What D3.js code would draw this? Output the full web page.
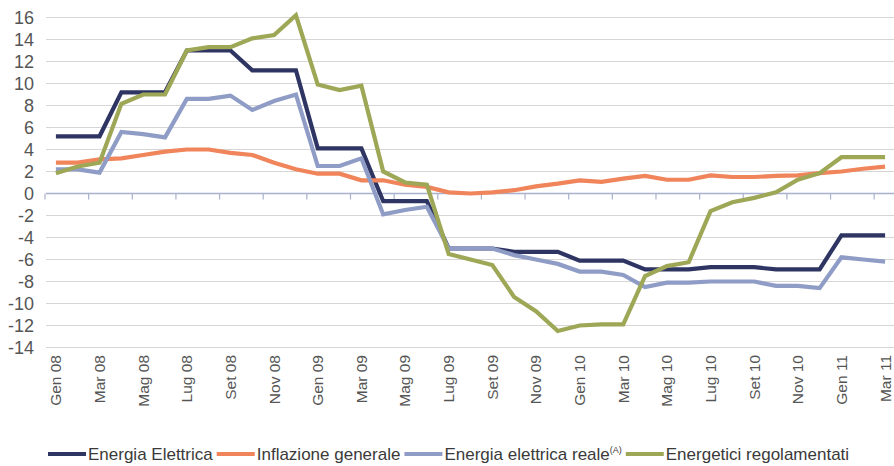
<!DOCTYPE html>
<html>
<head>
<meta charset="utf-8">
<script src="https://cdn.jsdelivr.net/npm/d3@7"></script>
<style>
    body { margin: 0; background: #fff; }
    svg { display: block; font-family: "Liberation Sans", Arial, sans-serif; }
    .grid line { stroke: #d6d6d6; stroke-width: 1; }
    .zero { stroke: #a9b1cc; stroke-width: 1.5; }
    .tick-mark { stroke: #a9b1cc; stroke-width: 1.2; }
    .y-label { font-size: 18px; fill: #555; }
    .x-label { font-size: 15.5px; fill: #555; }
    .series { fill: none; stroke-width: 4.2; stroke-linejoin: miter; }
    .legend-text { font-size: 17px; fill: #3a3a3a; }
</style>
</head>
<body>
<div id="chart"></div>
<script>
// Size of the SVG element
let width = 894;
let height = 466;

// Months from Gen 08 to Mar 11
let months = [
    "Gen 08", "Feb 08", "Mar 08", "Apr 08", "Mag 08", "Giu 08", "Lug 08", "Ago 08", "Set 08", "Ott 08", "Nov 08", "Dic 08",
    "Gen 09", "Feb 09", "Mar 09", "Apr 09", "Mag 09", "Giu 09", "Lug 09", "Ago 09", "Set 09", "Ott 09", "Nov 09", "Dic 09",
    "Gen 10", "Feb 10", "Mar 10", "Apr 10", "Mag 10", "Giu 10", "Lug 10", "Ago 10", "Set 10", "Ott 10", "Nov 10", "Dic 10",
    "Gen 11", "Feb 11", "Mar 11"
];

// Only every other month gets a label
let monthLabels = months.filter(function (d, i) { return i % 2 === 0; });

let yTicks = [16, 14, 12, 10, 8, 6, 4, 2, 0, -2, -4, -6, -8, -10, -12, -14];

// Series values
let energiaElettrica = [5.2, 5.2, 5.2, 9.2, 9.2, 9.2, 13.0, 13.0, 13.0, 11.2, 11.2, 11.2,
    4.1, 4.1, 4.1, -0.7, -0.7, -0.7, -5.0, -5.0, -5.0, -5.3, -5.3, -5.3,
    -6.1, -6.1, -6.1, -6.9, -6.9, -6.9, -6.7, -6.7, -6.7, -6.9, -6.9, -6.9, -3.8, -3.8, -3.8];

let inflazioneGenerale = [2.8, 2.8, 3.1, 3.2, 3.5, 3.8, 4.0, 4.0, 3.7, 3.5, 2.8, 2.2,
    1.8, 1.8, 1.2, 1.2, 0.8, 0.6, 0.1, 0.0, 0.1, 0.3, 0.65, 0.9,
    1.2, 1.05, 1.35, 1.6, 1.25, 1.25, 1.65, 1.5, 1.5, 1.6, 1.65, 1.85, 2.0, 2.25, 2.45];

let energiaElettricaReale = [2.2, 2.2, 1.9, 5.6, 5.4, 5.1, 8.6, 8.6, 8.9, 7.6, 8.4, 9.0,
    2.5, 2.5, 3.2, -1.9, -1.5, -1.2, -5.0, -5.0, -5.0, -5.6, -6.0, -6.4,
    -7.1, -7.1, -7.4, -8.5, -8.1, -8.1, -8.0, -8.0, -8.0, -8.4, -8.4, -8.6, -5.8, -6.0, -6.2];

let energeticiRegolamentati = [1.85, 2.45, 2.8, 8.15, 9.0, 9.0, 13.0, 13.3, 13.3, 14.1, 14.4, 16.2,
    9.9, 9.4, 9.8, 2.0, 1.0, 0.8, -5.5, -6.0, -6.5, -9.4, -10.7, -12.5,
    -12.0, -11.9, -11.9, -7.5, -6.6, -6.25, -1.6, -0.8, -0.4, 0.1, 1.25, 1.85, 3.3, 3.3, 3.3];

let seriesNames = ["Energia Elettrica", "Inflazione generale", "Energia elettrica reale", "Energetici regolamentati"];
let seriesColors = ["#2f3563", "#f0845a", "#8f9cc6", "#9ea756"];
let seriesValues = [energiaElettrica, inflazioneGenerale, energiaElettricaReale, energeticiRegolamentati];

// Scales
let xBand = d3.scaleBand()
    .domain(months)
    .range([45, 896]);

let xScale = function (m) {
    return xBand(m) + xBand.bandwidth() / 2;
};

let yScale = d3.scaleLinear()
    .domain([-14, 16])
    .range([347.5, 17.5]);

let svg = d3.select("#chart")
    .append("svg")
    .attr("width", width)
    .attr("height", height);

// Horizontal grid lines
svg.append("g")
    .attr("class", "grid")
    .selectAll("line")
    .data(yTicks.filter(function (d) { return d !== 0; }))
    .enter()
    .append("line")
    .attr("x1", 46)
    .attr("x2", width)
    .attr("y1", function (d) { return yScale(d); })
    .attr("y2", function (d) { return yScale(d); });

// Y labels
svg.append("g")
    .selectAll("text")
    .data(yTicks)
    .enter()
    .append("text")
    .attr("class", "y-label")
    .attr("x", 34)
    .attr("y", function (d) { return yScale(d); })
    .attr("dy", "0.35em")
    .attr("text-anchor", "end")
    .text(function (d) { return d; });

// Zero line with tick marks between every two months
svg.append("line")
    .attr("class", "zero")
    .attr("x1", 46)
    .attr("x2", width)
    .attr("y1", yScale(0))
    .attr("y2", yScale(0));

svg.append("g")
    .selectAll("line")
    .data(monthLabels)
    .enter()
    .append("line")
    .attr("class", "tick-mark")
    .attr("x1", function (d) { return xBand(d); })
    .attr("x2", function (d) { return xBand(d); })
    .attr("y1", yScale(0))
    .attr("y2", yScale(0) + 6);

// Rotated month labels
svg.append("g")
    .selectAll("text")
    .data(monthLabels)
    .enter()
    .append("text")
    .attr("class", "x-label")
    .attr("transform", function (d) { return "translate(" + xScale(d) + ",355) rotate(-90)"; })
    .attr("dy", "0.35em")
    .attr("text-anchor", "end")
    .text(function (d) { return d; });

// Lines
let line = d3.line()
    .x(function (d, i) { return xScale(months[i]); })
    .y(function (d) { return yScale(d); });

svg.append("g")
    .selectAll("path")
    .data(seriesValues)
    .enter()
    .append("path")
    .attr("class", "series")
    .attr("stroke", function (d, i) { return seriesColors[i]; })
    .attr("d", line);

// Legend: swatch then label, laid out one after the other
let legendX = 48;
let legendY = 460;
seriesNames.forEach(function (name, i) {
    svg.append("line")
        .attr("x1", legendX)
        .attr("x2", legendX + 38)
        .attr("y1", legendY - 6)
        .attr("y2", legendY - 6)
        .attr("stroke", seriesColors[i])
        .attr("stroke-width", 4);

    let label = svg.append("text")
        .attr("class", "legend-text")
        .attr("x", legendX + 40)
        .attr("y", legendY)
        .text(name);

    if (i === 2) {
        label.append("tspan")
            .attr("dy", -7)
            .attr("font-size", "9px")
            .text("(A)");
    }

    legendX += 40 + label.node().getComputedTextLength() + 4;
});
</script>
</body>
</html>
